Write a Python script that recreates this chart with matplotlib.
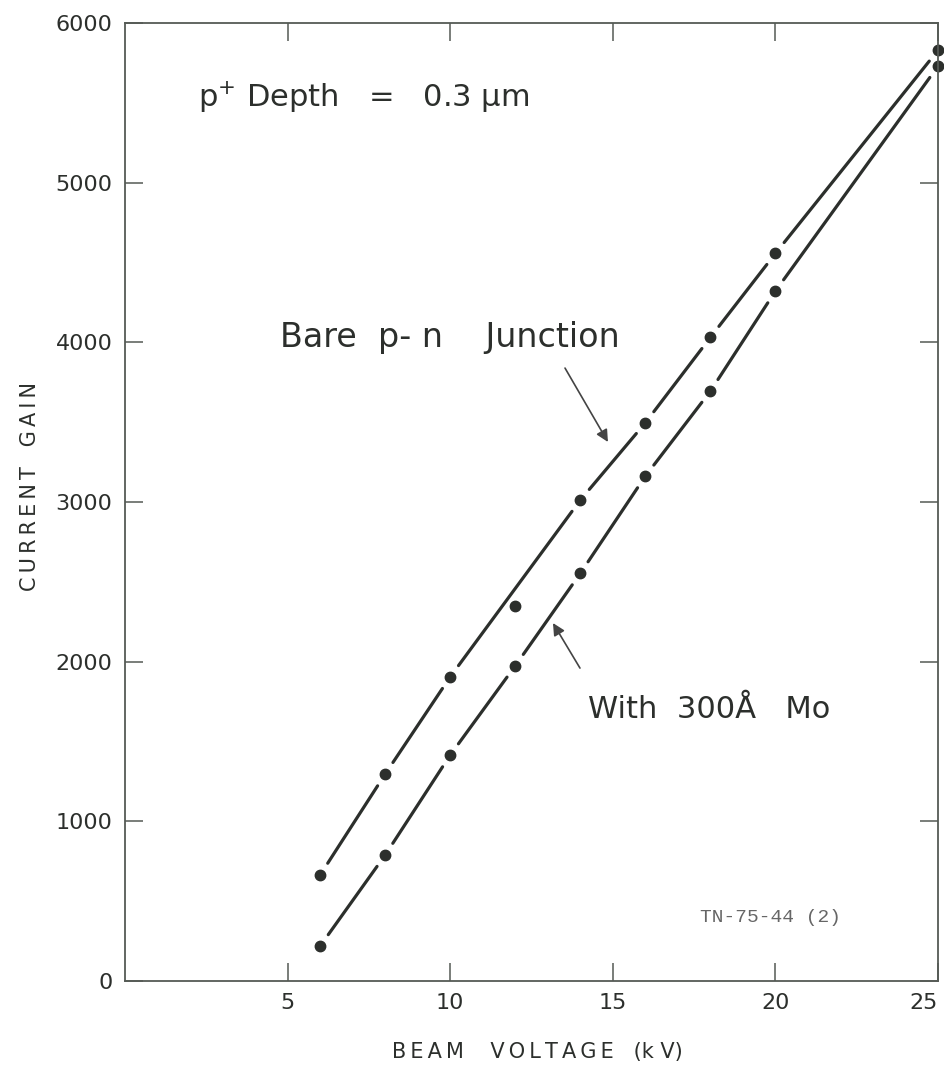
import matplotlib

matplotlib.use("Agg")
import matplotlib.pyplot as plt
import numpy as np

# beam voltage (kV) and measured current gain
voltage = [6, 8, 10, 12, 14, 16, 18, 20, 25]
gain_bare = [664, 1296, 1905, 2348, 3012, 3496, 4031, 4557, 5830]
gain_mo = [219, 789, 1415, 1974, 2553, 3162, 3694, 4321, 5730]
# points plotted but left off the drawn curve
bare_off_curve = [12]

x_ticks = [5, 10, 15, 20, 25]
y_ticks = [0, 1000, 2000, 3000, 4000, 5000, 6000]

INK = "#2c2f2c"
FONT = "DejaVu Sans"
THIN = "\u2009"

plt.rcParams["font.family"] = FONT
plt.rcParams["mathtext.fontset"] = "dejavusans"


def spaced(text):
    """Letter-space a caption with thin spaces."""
    return THIN.join(text)


def broken_curve(ax, xs, ys, skip=(), gap_px=14.0, **kw):
    """Join the points with straight pieces, leaving a gap round each dot."""
    pts = [(x, y) for x, y in zip(xs, ys) if x not in skip]
    disp = ax.transData.transform(pts)
    inv = ax.transData.inverted()
    for p0, p1 in zip(disp[:-1], disp[1:]):
        d = p1 - p0
        n = np.hypot(*d)
        a = p0 + d / n * gap_px
        b = p1 - d / n * gap_px
        seg = inv.transform([a, b])
        ax.plot(seg[:, 0], seg[:, 1], solid_capstyle="round", **kw)


fig = plt.figure(figsize=(9.45, 10.67), dpi=100)
ax = fig.add_axes([0.1323, 0.0806, 0.8603, 0.8978])
ax.set_xlim(0, 25)
ax.set_ylim(0, 6000)

for s in ax.spines.values():
    s.set_color("#555a55")
    s.set_linewidth(1.3)

ax.set_xticks(x_ticks)
ax.set_yticks(y_ticks)
ax.tick_params(direction="in", length=13, width=1.1, color="#555a55",
               top=True, right=True, labelsize=16, labelcolor=INK, pad=9)
# the last x label sits inside the figure edge
ax.get_xticklabels()[-1].set_horizontalalignment("right")
ax.get_xticklabels()[-1].set_x(25.15)

broken_curve(ax, voltage, gain_bare, skip=bare_off_curve, color=INK, lw=2.3)
broken_curve(ax, voltage, gain_mo, color=INK, lw=2.3)
ax.plot(voltage, gain_bare, "o", color=INK, ms=7.5, clip_on=False)
ax.plot(voltage, gain_mo, "o", color=INK, ms=7.5, clip_on=False)

ax.set_xlabel(spaced("BEAM") + "    " + spaced("VOLTAGE") + "   (" + "k V" + ")",
              fontsize=15, color=INK)
ax.xaxis.set_label_coords(0.507, -0.064)
ax.set_ylabel(spaced("CURRENT") + "   " + spaced("GAIN"), fontsize=15, color=INK)
ax.yaxis.set_label_coords(-0.105, 0.516)

ax.text(2.24, 5474, r"p$^{+}$ Depth   =   0.3 μm", fontsize=22, color=INK)
ax.text(4.77, 3971, "Bare  p- n    Junction", fontsize=24, color=INK)
ax.text(14.24, 1647, "With  300Å   Mo", fontsize=22, color=INK)
ax.text(17.68, 395, "TN-75-44 (2)", fontsize=14, color="#666666",
        family="Liberation Mono", va="center")

ax.annotate("", xy=(14.85, 3376), xytext=(13.53, 3839),
            arrowprops=dict(arrowstyle="-|>", color="#444444", lw=1.2,
                            mutation_scale=18, shrinkA=0, shrinkB=0))
ax.annotate("", xy=(13.16, 2242), xytext=(13.99, 1960),
            arrowprops=dict(arrowstyle="-|>", color="#444444", lw=1.2,
                            mutation_scale=18, shrinkA=0, shrinkB=0))

fig.savefig("out.png", dpi=100)
